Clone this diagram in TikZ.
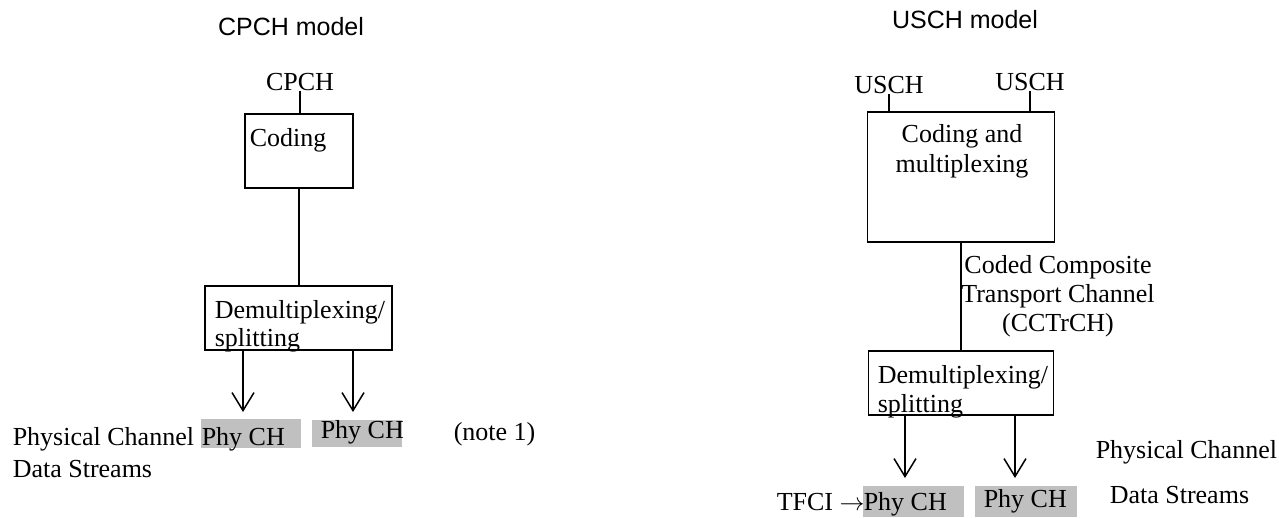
\documentclass[tikz,border=0pt]{standalone}
\usepackage{fontspec}
\setmainfont{Liberation Serif}
\newfontfamily\headfont{Liberation Sans}
\usetikzlibrary{arrows.meta}
\definecolor{phygray}{RGB}{192,192,192}

\begin{document}
\begin{tikzpicture}[x = 1pt, y = -1pt, line width = 1.5pt,
                      blk/.style = {draw, rectangle, inner sep = 0pt},
                      phy/.style = {rectangle, fill = phygray, inner sep = 0pt},
                      txt/.style = {inner sep = 0pt, anchor = base west, font = \fontsize{26}{29}\selectfont},
                      txc/.style = {txt, anchor = base},
                      head/.style = {inner sep = 0pt, anchor = base, font = \headfont\fontsize{25}{30}\selectfont},
                      down/.style = {-{Straight Barb[length = 18pt, width = 22pt]}}]
    \useasboundingbox (0, 0) rectangle (1279, 517);

    % CPCH model
    \node [head] (cpchhead) at (291, 35) {CPCH model};
    \node [txc] (cpch) at (300, 90) {CPCH};
    \node [blk, minimum width = 108pt, minimum height = 74pt] (cod) at (299, 151){};
    \node [txt] (codtxt) at (249, 146) {Coding};
    \node [blk, minimum width = 187pt, minimum height = 64pt] (dmxa) at (298.5, 318){};
    \node [txt] (dmxa1) at (214, 318) {Demultiplexing/};
    \node [txt] (dmxa2) at (214, 346) {splitting};

    \node [phy, minimum width = 100pt, minimum height = 29pt] (phya) at (251, 433.5){};
    \node [phy, minimum width = 90pt, minimum height = 27pt] (phyb) at (357, 433.5){};
    \node [txt] (phyatxt) at (201, 445) {Phy CH};
    \node [txt] (phybtxt) at (320, 438) {Phy CH};
    \node [txt] (pcha) at (12, 445) {Physical Channel};
    \node [txt] (dsa) at (12, 477) {Data Streams};
    \node [txt] (note) at (453, 440) {(note 1)};

    \coordinate (tipa) at (243, 412);
    \coordinate (tipb) at (353, 412);

    \draw (cpch.south) -- (cpch.south |- cod.north);
    \draw (cod.south) -- (cod.south |- dmxa.north);
    \draw [down] (tipa |- dmxa.south) -- (tipa);
    \draw [down] (tipb |- dmxa.south) -- (tipb);

    % USCH model
    \node [head] (uschhead) at (965, 28) {USCH model};
    \node [txc] (uscha) at (889, 93) {USCH};
    \node [txc] (uschb) at (1030, 90) {USCH};
    \node [blk, minimum width = 187pt, minimum height = 130pt] (mux) at (961, 177){};
    \node [txc] (mux1) at (962, 142) {Coding and};
    \node [txc] (mux2) at (962, 172) {multiplexing};
    \node [txc] (cct1) at (1058, 273) {Coded Composite};
    \node [txc] (cct2) at (1058, 302) {Transport Channel};
    \node [txc] (cct3) at (1058, 331) {(CCTrCH)};
    \node [blk, minimum width = 185pt, minimum height = 64pt] (dmxb) at (961, 383){};
    \node [txt] (dmxb1) at (877, 383) {Demultiplexing/};
    \node [txt] (dmxb2) at (877, 412) {splitting};

    \node [phy, minimum width = 101pt, minimum height = 31pt] (phyc) at (913.5, 501.5){};
    \node [phy, minimum width = 102pt, minimum height = 31pt] (phyd) at (1026, 501.5){};
    \node [txt] (phyctxt) at (863, 510) {Phy CH};
    \node [txt] (phydtxt) at (983, 507) {Phy CH};
    \node [txt] (tfci) at (776, 510) {TFCI $\rightarrow$};
    \node [txt] (pchb) at (1095, 458) {Physical Channel};
    \node [txt] (dsb) at (1109, 503) {Data Streams};

    \coordinate (tipc) at (905, 478);
    \coordinate (tipd) at (1015, 478);

    \draw (uscha.south) -- (uscha.south |- mux.north);
    \draw (uschb.south) -- (uschb.south |- mux.north);
    \draw (mux.south) -- (mux.south |- dmxb.north);
    \draw [down] (tipc |- dmxb.south) -- (tipc);
    \draw [down] (tipd |- dmxb.south) -- (tipd);
\end{tikzpicture}
\end{document}
